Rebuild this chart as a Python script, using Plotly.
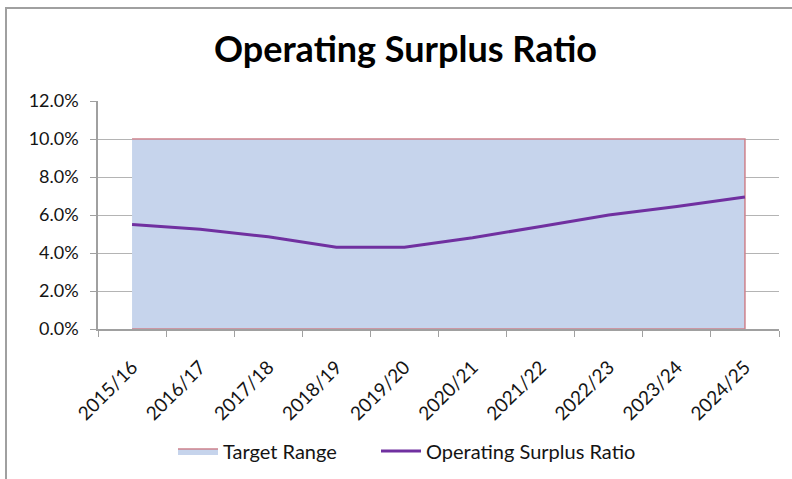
import plotly.graph_objects as go

# Financial years on the category axis
years = ["2015/16", "2016/17", "2017/18", "2018/19", "2019/20",
         "2020/21", "2021/22", "2022/23", "2023/24", "2024/25"]

# Operating surplus ratio (%) per year
surplus_ratio = [5.5, 5.25, 4.85, 4.3, 4.3, 4.8, 5.4, 6.0, 6.45, 6.95]

# Target band (%)
target_low = [0, 0, 0, 0, 0, 0, 0, 0, 0, 0]
target_high = [10, 10, 10, 10, 10, 10, 10, 10, 10, 10]

y_ticks = [0, 2, 4, 6, 8, 10, 12]
y_tick_text = [f"{v:.1f}%" for v in y_ticks]

W, H = 792, 479
M_L, M_R, M_T, M_B = 98, 13, 101, 150
FONT = "Lato"
TEXT = "rgb(20,20,20)"

fig = go.Figure()

# Target range as a closed band between the low and high bounds
fig.add_trace(go.Scatter(
    x=years + years[::-1],
    y=target_high + target_low[::-1],
    mode="lines",
    fill="toself",
    fillcolor="rgb(198,212,236)",
    line=dict(color="rgb(205,130,140)", width=1.5),
    name="Target Range",
    legend="legend",
))

fig.add_trace(go.Scatter(
    x=years,
    y=surplus_ratio,
    mode="lines",
    line=dict(color="rgb(112,48,160)", width=3),
    name="Operating Surplus Ratio",
    legend="legend2",
))

# Outer chart frame (extends past the right and bottom edges)
pw = W - M_L - M_R
ph = H - M_T - M_B
fig.add_shape(
    type="rect", xref="paper", yref="paper",
    x0=(6 - M_L) / pw, x1=(W + 10 - M_L) / pw,
    y0=-(H + 10 - (H - M_B)) / ph, y1=((H - M_B) - 8) / ph,
    line=dict(color="rgb(160,160,160)", width=2),
    fillcolor="rgba(0,0,0,0)", layer="below",
)

legend_common = dict(
    orientation="h", xanchor="left", y=-0.535, yanchor="middle",
    font=dict(family=FONT, size=20, color=TEXT),
    itemwidth=40, bgcolor="rgba(0,0,0,0)",
)

fig.update_layout(
    width=W, height=H,
    margin=dict(l=M_L, r=M_R, t=M_T, b=M_B, autoexpand=False),
    paper_bgcolor="white",
    plot_bgcolor="white",
    font=dict(family=FONT, color=TEXT),
    title=dict(
        text="<b>Operating Surplus Ratio</b>",
        x=0.512, xanchor="center", y=0.896, yanchor="middle",
        font=dict(family=FONT, size=36, color="black"),
    ),
    legend=dict(x=(173 - M_L) / pw, **legend_common),
    legend2=dict(x=(376 - M_L) / pw, **legend_common),
    showlegend=True,
)

fig.update_xaxes(
    type="category",
    range=[-0.5, len(years) - 0.5],
    tickangle=-45,
    tickfont=dict(family=FONT, size=19, color=TEXT),
    ticklabelstandoff=18,
    showline=True, linecolor="rgb(160,160,160)", linewidth=1.5,
    ticks="outside", ticklen=6, tickcolor="rgb(160,160,160)",
    tickson="boundaries",
    showgrid=False,
)

fig.update_yaxes(
    range=[0, 12],
    tickvals=y_ticks, ticktext=y_tick_text,
    tickfont=dict(family=FONT, size=18, color=TEXT),
    ticklabelstandoff=8,
    showline=True, linecolor="rgb(160,160,160)", linewidth=1.5,
    ticks="outside", ticklen=6, tickcolor="rgb(160,160,160)",
    showgrid=True, gridcolor="rgb(180,180,180)", gridwidth=1,
    zeroline=False,
)

fig.write_html("out.html")
